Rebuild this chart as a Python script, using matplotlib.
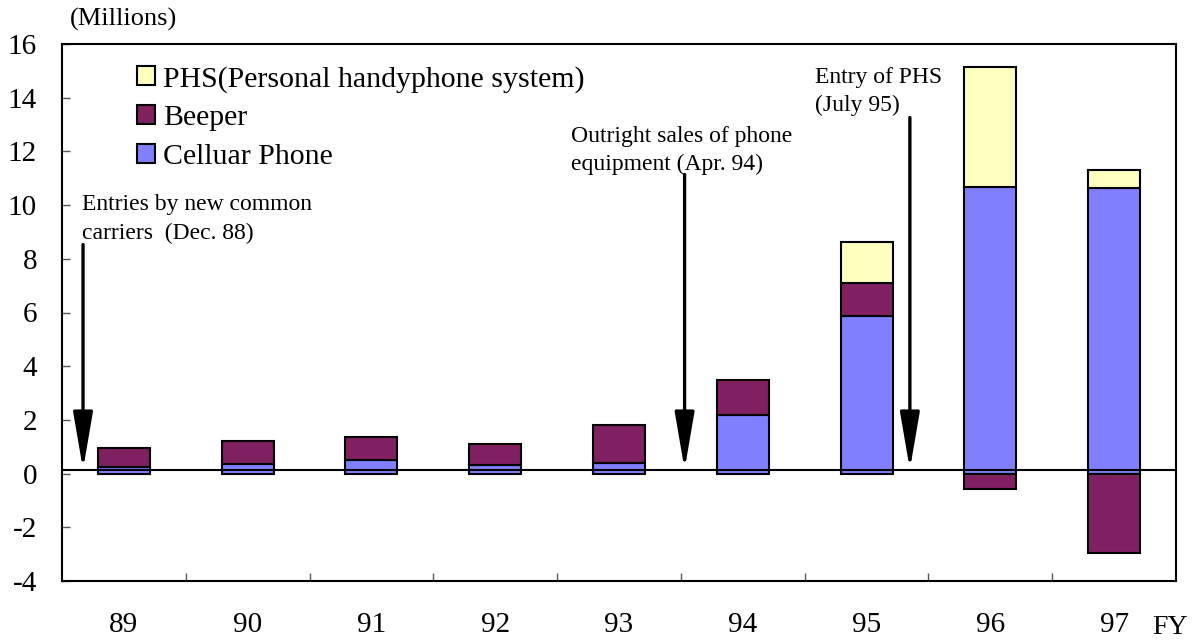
import numpy as np
import matplotlib
matplotlib.use('Agg')
from matplotlib import pyplot as plt
from matplotlib.patches import Patch

plt.rcParams['font.family'] = ['Liberation Serif', 'DejaVu Serif']

# 年度
years = ['89', '90', '91', '92', '93', '94', '95', '96', '97']
# 各系列数值（百万）
cellular = [0.23, 0.37, 0.50, 0.33, 0.40, 2.20, 5.88, 10.69, 10.65]
beeper = [0.73, 0.83, 0.85, 0.77, 1.40, 1.27, 1.23, -0.56, -2.95]
phs = [0.0, 0.0, 0.0, 0.0, 0.0, 0.0, 1.53, 4.47, 0.67]

# 注释文字与箭头位置（x 为年度序号，y 为数值）
notes = ['Entries by new common\ncarriers  (Dec. 88)',
         'Outright sales of phone\nequipment (Apr. 94)',
         'Entry of PHS\n(July 95)']
note_xy = [(-0.34, 10.4), (3.61, 12.95), (5.58, 15.15)]
arrow_x = [-0.33, 4.53, 6.35]
arrow_top = [8.53, 11.14, 13.26]

c_cell = '#8080FF'
c_beep = '#802060'
c_phs = '#FFFFC0'

fig = plt.figure(figsize=(11.94, 6.4), dpi=100)
ax = fig.add_axes([62 / 1194, 1 - 581 / 640, 1114 / 1194, 537 / 640])

x = np.arange(len(years))
cell = np.array(cellular)
beep = np.array(beeper)
ph = np.array(phs)

w = 0.42
ax.bar(x, cell, w, color=c_cell, edgecolor='black', linewidth=1.5, zorder=2)
beep_bottom = np.where(beep >= 0, cell, 0)
ax.bar(x, beep, w, bottom=beep_bottom, color=c_beep, edgecolor='black', linewidth=1.5, zorder=2)
phs_bottom = cell + np.where(beep >= 0, beep, 0)
mask = ph > 0
ax.bar(x[mask], ph[mask], w, bottom=phs_bottom[mask], color=c_phs, edgecolor='black', linewidth=1.5, zorder=2)

# 零线（原图略高于零）
ax.axhline(0.14, color='black', linewidth=1.5, zorder=3)

for txt, (tx, ty) in zip(notes, note_xy):
    ax.text(tx, ty, txt, fontsize=17, ha='left', va='top', linespacing=1.45)
for ax_x, top in zip(arrow_x, arrow_top):
    ax.annotate('', xy=(ax_x, 0.15), xytext=(ax_x, top),
                arrowprops=dict(arrowstyle='-|>,head_length=3.5,head_width=0.6',
                                color='black', lw=2.4, shrinkA=0, shrinkB=0,
                                mutation_scale=10),
                zorder=4)

ax.set_xlim(-0.5, len(years) - 0.5)
ax.set_ylim(-4, 16)
ax.set_yticks(np.arange(-4, 17, 2))
ax.set_yticklabels([str(v) for v in range(-4, 17, 2)])
ax.set_xticks(x)
ax.set_xticklabels(years)
ax.set_xticks(np.arange(0.5, len(years) - 1, 1), minor=True)
ax.tick_params(axis='x', which='major', length=0, pad=22, labelsize=21)
ax.tick_params(axis='x', which='minor', direction='in', length=6, width=1, color='#555555')
ax.tick_params(axis='y', direction='in', length=6, width=1, pad=18, labelsize=21, color='#555555')
for s in ax.spines.values():
    s.set_linewidth(1.5)

handles = [Patch(facecolor=c_phs, edgecolor='black', linewidth=1.5),
           Patch(facecolor=c_beep, edgecolor='black', linewidth=1.5),
           Patch(facecolor=c_cell, edgecolor='black', linewidth=1.5)]
labels = ['PHS(Personal handyphone system)', 'Beeper', 'Celluar Phone']
ax.legend(handles, labels, loc='upper left', bbox_to_anchor=(0.057, 0.982),
          frameon=False, fontsize=21.5, handlelength=0.6, handleheight=0.6,
          handletextpad=0.25, labelspacing=0.42, borderaxespad=0)

fig.text(70 / 1194, 1 - 8 / 640, '(Millions)', fontsize=19, va='top', ha='left')
fig.text(1152 / 1194, 1 - 627 / 640, 'FY', fontsize=20, va='center', ha='left')

fig.savefig('out.png', dpi=100)
